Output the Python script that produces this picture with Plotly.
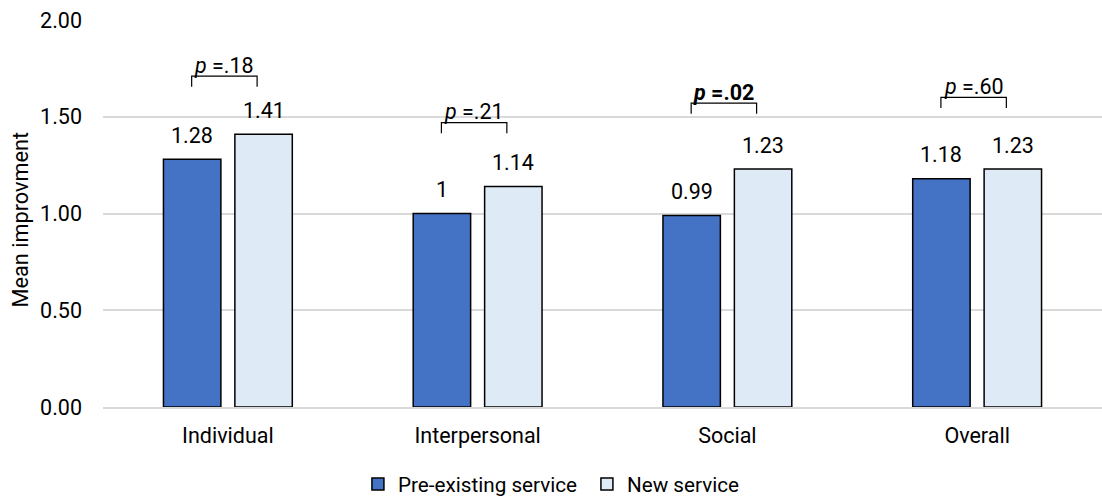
import plotly.graph_objects as go

# Mean improvement by domain, pre-existing vs new service
categories = ["Individual", "Interpersonal", "Social", "Overall"]
pre_existing = [1.28, 1, 0.99, 1.18]
new_service = [1.41, 1.14, 1.23, 1.23]
p_labels = ["<i>p</i> =.18", "<i>p</i> =.21", "<b><i>p</i> =.02</b>", "<i>p</i> =.60"]
bracket_tops = [1.71, 1.47, 1.57, 1.60]

FONT = "Roboto, Arial, sans-serif"
TEXT = "#000000"
GRID = "#d9d9d9"
FS = 21.5

fig = go.Figure()
fig.add_trace(go.Bar(
    name="Pre-existing service", x=categories, y=pre_existing,
    marker=dict(color="#4472c4", line=dict(color="#000000", width=1.5)),
))
fig.add_trace(go.Bar(
    name="New service", x=categories, y=new_service,
    marker=dict(color="#deebf7", line=dict(color="#000000", width=1.5)),
))

# value labels above each bar
bar_offset = 0.143
for i, (a, b) in enumerate(zip(pre_existing, new_service)):
    for dx, v in ((-bar_offset, a), (bar_offset, b)):
        fig.add_annotation(x=i + dx, y=v, text=f"{v:g}", showarrow=False,
                           yshift=24, yanchor="middle", xanchor="center",
                           font=dict(size=FS, color=TEXT, family=FONT))

# significance brackets with p-values
left_off, right_off, drop = -0.145, 0.117, 0.055
for i, (top, lab) in enumerate(zip(bracket_tops, p_labels)):
    x0, x1 = i + left_off, i + right_off
    fig.add_shape(type="path",
                  path=f"M {x0},{top - drop} L {x0},{top} L {x1},{top} L {x1},{top - drop}",
                  xref="x", yref="y", line=dict(color="#000000", width=1.2))
    fig.add_annotation(x=(x0 + x1) / 2, y=top, text=lab, showarrow=False,
                       yshift=11, yanchor="middle", xanchor="center",
                       font=dict(size=FS, color=TEXT, family=FONT))

# y-axis title
fig.add_annotation(xref="paper", yref="paper", x=-0.083, y=0.485,
                   text="Mean improvment", textangle=-90, showarrow=False,
                   xanchor="center", yanchor="middle",
                   font=dict(size=21.7, color=TEXT, family=FONT))

fig.update_layout(
    width=1102, height=497,
    margin=dict(l=103, r=0, t=20, b=90),
    paper_bgcolor="white", plot_bgcolor="white",
    barmode="group", bargap=0.428, bargroupgap=0.196,
    font=dict(family=FONT, size=FS, color=TEXT),
    showlegend=True,
    legend=dict(orientation="h", xref="container", yref="container",
                x=0.3248, y=0.026, xanchor="left", yanchor="middle",
                font=dict(size=20.7, color=TEXT, family=FONT),
                itemwidth=30, entrywidth=184, traceorder="normal"),
    xaxis=dict(showgrid=False, showline=True, linecolor=GRID, linewidth=2,
               ticks="", tickfont=dict(size=FS, color=TEXT),
               ticklabelstandoff=8),
    yaxis=dict(range=[0, 2], tickvals=[0, 0.5, 1, 1.5, 2], tickformat=".2f",
               showgrid=True, gridcolor=GRID, gridwidth=1.5,
               zeroline=False, showline=False, ticks="",
               tickfont=dict(size=FS, color=TEXT), ticklabelstandoff=20),
)

fig.write_html("out.html")
